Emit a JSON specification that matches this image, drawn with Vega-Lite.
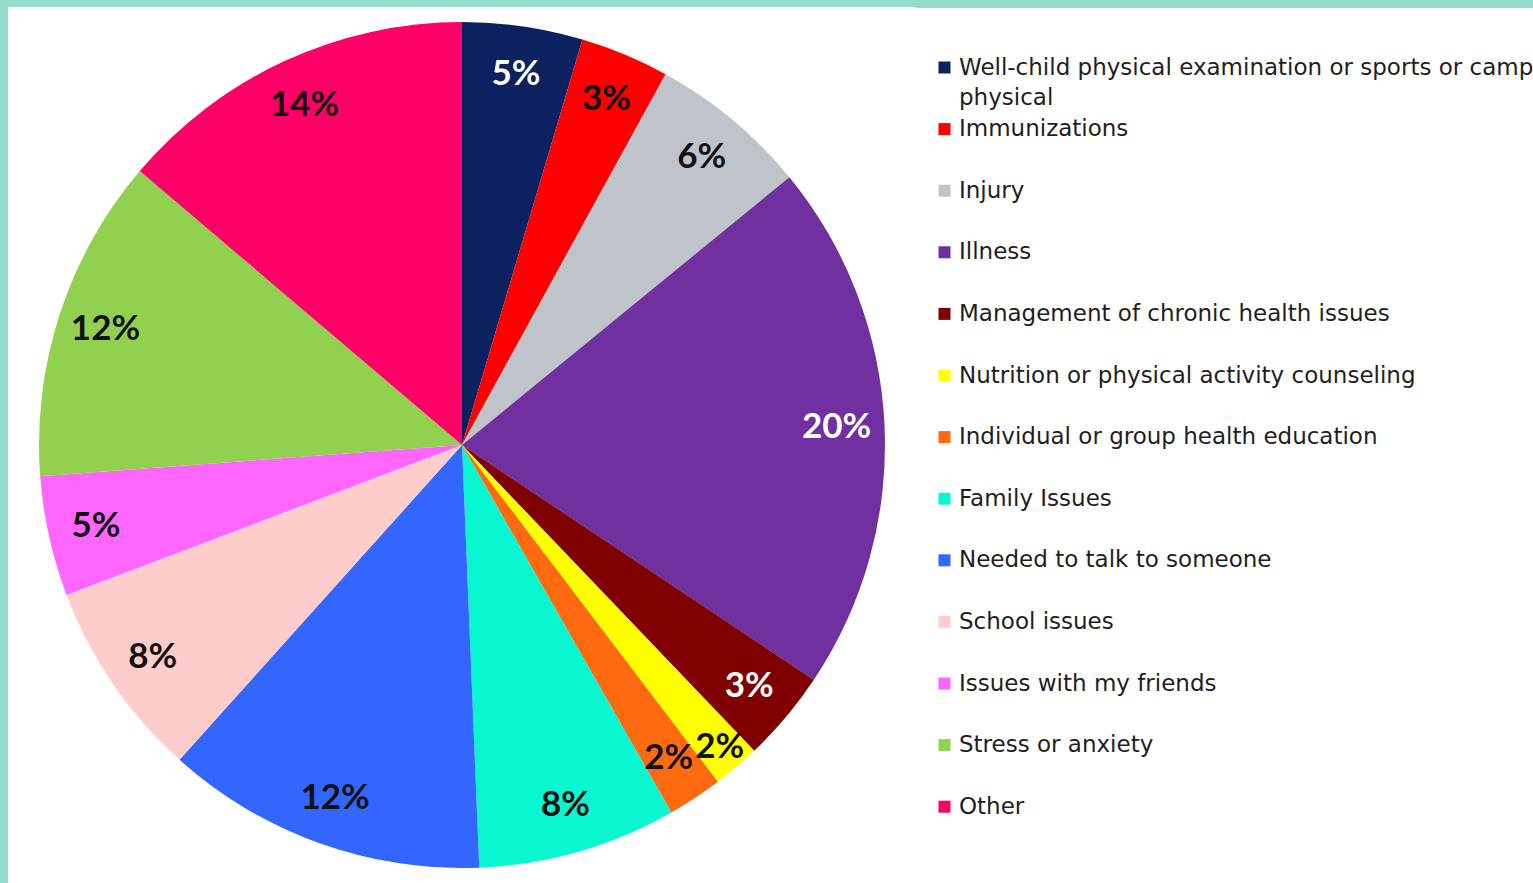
{
  "$schema": "https://vega.github.io/schema/vega-lite/v6.json",
  "width": 908,
  "height": 876,
  "autosize": {"type": "none"},
  "padding": {"left": 8, "top": 7, "right": 617, "bottom": 0},
  "background": "#94DDCC",
  "view": {"fill": "white", "stroke": null},
  "config": {
    "style": {"guide-label": {"lineHeight": 30}}
  },
  "data": {
    "values": [
      {"rank": 1, "cat": "Well-child physical examination or sports or camp physical", "share": 4.6, "label": "5%"},
      {"rank": 2, "cat": "Immunizations", "share": 3.4, "label": "3%"},
      {"rank": 3, "cat": "Injury", "share": 6.1, "label": "6%"},
      {"rank": 4, "cat": "Illness", "share": 20.3, "label": "20%"},
      {"rank": 5, "cat": "Management of chronic health issues", "share": 3.5, "label": "3%"},
      {"rank": 6, "cat": "Nutrition or physical activity counseling", "share": 1.8, "label": "2%"},
      {"rank": 7, "cat": "Individual or group health education", "share": 2.1, "label": "2%"},
      {"rank": 8, "cat": "Family Issues", "share": 7.6, "label": "8%"},
      {"rank": 9, "cat": "Needed to talk to someone", "share": 12.3, "label": "12%"},
      {"rank": 10, "cat": "School issues", "share": 7.6, "label": "8%"},
      {"rank": 11, "cat": "Issues with my friends", "share": 4.6, "label": "5%"},
      {"rank": 12, "cat": "Stress or anxiety", "share": 12.4, "label": "12%"},
      {"rank": 13, "cat": "Other", "share": 13.8, "label": "14%"}
    ]
  },
  "encoding": {
    "theta": {"field": "share", "type": "quantitative", "stack": true},
    "order": {"field": "rank", "type": "quantitative"}
  },
  "layer": [
    {
      "mark": {"type": "arc", "outerRadius": 423, "strokeWidth": 0},
      "encoding": {
        "color": {
          "field": "cat",
          "type": "nominal",
          "scale": {
            "domain": [
              "Well-child physical examination or sports or camp physical",
              "Immunizations",
              "Injury",
              "Illness",
              "Management of chronic health issues",
              "Nutrition or physical activity counseling",
              "Individual or group health education",
              "Family Issues",
              "Needed to talk to someone",
              "School issues",
              "Issues with my friends",
              "Stress or anxiety",
              "Other"
            ],
            "range": ["#0C2160", "#FF0000", "#BFC4CA", "#7030A0", "#800000", "#FFFF00", "#FF6A10", "#09F7D0", "#3366FF", "#FFCCCC", "#FF66FF", "#92D050", "#FF0066"]
          },
          "legend": {
            "title": " ",
            "titleOrient": "bottom",
            "titleFontSize": 10,
            "titlePadding": 10,
            "orient": "none",
            "legendX": 877,
            "legendY": 1,
            "padding": 48,
            "fillColor": "white",
            "strokeColor": null,
            "symbolType": "square",
            "symbolSize": 144,
            "symbolStrokeWidth": 0,
            "labelFont": "DejaVu Sans",
            "labelFontSize": 23,
            "labelColor": "#1E1E1E",
            "labelOffset": 3,
            "labelLimit": 2000,
            "rowPadding": 7.6,
            "gridAlign": "all",
            "labelExpr": "datum.label == 'Well-child physical examination or sports or camp physical' ? ['Well-child physical examination or sports or camp', 'physical'] : datum.label",
            "encode": {
              "labels": {
                "lineHeight": {"value": 30},
                "dy": {"value": {"expr": "datum.value == 'Well-child physical examination or sports or camp physical' ? 15 : 0"}}
              }
            }
          }
        }
      }
    },
    {
      "mark": {"type": "text", "radius": 375, "font": "Lato", "fontWeight": "bold", "fontSize": 35},
      "encoding": {
        "text": {"field": "label", "type": "nominal"},
        "detail": {"field": "cat", "type": "nominal"},
        "opacity": {
          "condition": {"test": "datum.cat == 'Nutrition or physical activity counseling'", "value": 0},
          "value": 1
        },
        "color": {
          "condition": {
            "test": "indexof(['Well-child physical examination or sports or camp physical', 'Illness', 'Management of chronic health issues'], datum.cat) >= 0",
            "value": "white"
          },
          "value": "#111111"
        }
      }
    },
    {
      "mark": {"type": "text", "radius": 397, "font": "Lato", "fontWeight": "bold", "fontSize": 35, "color": "#111111"},
      "encoding": {
        "text": {"field": "label", "type": "nominal"},
        "detail": {"field": "cat", "type": "nominal"},
        "opacity": {
          "condition": {"test": "datum.cat == 'Nutrition or physical activity counseling'", "value": 1},
          "value": 0
        }
      }
    }
  ]
}
